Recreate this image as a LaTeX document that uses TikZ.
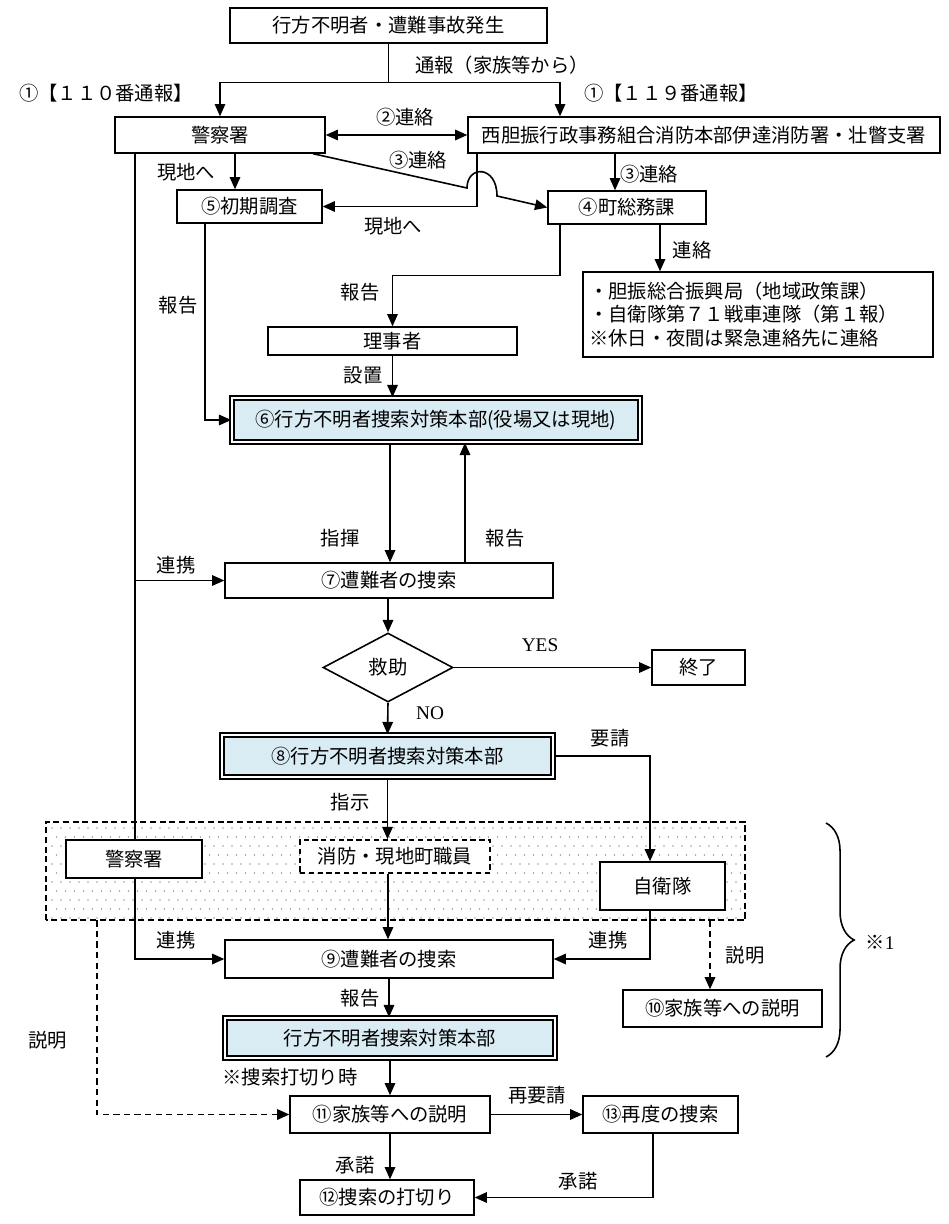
\documentclass[tikz,border=0pt]{standalone}
\usepackage{fontspec}
\setmainfont{Noto Sans CJK JP}
\newfontfamily\lat{Liberation Serif}
\usetikzlibrary{arrows.meta,shapes.geometric,decorations.pathreplacing,calc}
\definecolor{hqblue}{RGB}{218,236,243}
\definecolor{dotgray}{RGB}{160,160,160}
\begin{document}
\begin{tikzpicture}[x=0.02cm,y=-0.02cm,
  every node/.style={font=\fontsize{11}{13.6}\selectfont},
  box/.style={draw, line width=0.8pt, fill=white, inner sep=0pt},
  hqbox/.style={draw, line width=0.9pt, double=white, double distance=1.2pt, fill=hqblue, inner sep=0pt},
  dbox/.style={box, line width=1pt, dash pattern=on 3pt off 2pt},
  lbl/.style={inner sep=0pt},
  arr/.style={line width=0.9pt, -{Triangle[length=7pt,width=6pt]}},
  plain/.style={line width=0.9pt},
  darr/.style={line width=1.1pt, dash pattern=on 3.5pt off 2.5pt, -{Triangle[length=7pt,width=6pt]}}
]
\useasboundingbox (0,0) rectangle (948,1224);

% dotted region
\node[draw=none, minimum width=13.98cm, minimum height=1.96cm, inner sep=0pt] (reg) at (395.5,871) {};
\foreach \j in {0,...,10} {
  \pgfmathsetmacro{\off}{mod(\j,2)*4.5}
  \foreach \i in {0,...,76} {
    \fill[dotgray] (52+\off+\i*9, 828+\j*9) circle (0.45pt);
  }
}
\draw[line width=1.1pt, dash pattern=on 3.5pt off 2pt] (reg.south west) rectangle (reg.north east);

% nodes
\node[box, minimum width=6.34cm, minimum height=0.70cm] (top) at (388.5,25.5) {行方不明者・遭難事故発生};
\node[box, minimum width=4.2cm, minimum height=0.72cm] (police) at (220,135) {警察署};
\node[box, minimum width=9.44cm, minimum height=0.72cm] (fire) at (704,135) {西胆振行政事務組合消防本部伊達消防署・壮瞥支署};
\node[box, minimum width=2.9cm, minimum height=0.66cm] (init) at (249.5,206.5) {⑤初期調査};
\node[box, minimum width=3.16cm, minimum height=0.66cm] (somu) at (627,207.5) {④町総務課};
\node[box, minimum width=7.0cm, minimum height=1.7cm, text width=6.76cm, align=left] (info) at (758,314.5) {・胆振総合振興局（地域政策課）\\・自衛隊第７１戦車連隊（第１報）\\※休日・夜間は緊急連絡先に連絡};
\node[box, minimum width=4.98cm, minimum height=0.56cm] (riji) at (392.5,341) {理事者};
\node[hqbox, minimum width=8.16cm, minimum height=0.88cm] (hq6) at (436,420) {⑥行方不明者捜索対策本部(役場又は現地)};
\node[box, minimum width=6.56cm, minimum height=0.7cm] (s7) at (389,580.5) {⑦遭難者の捜索};
\node[draw, diamond, line width=0.9pt, fill=white, inner sep=0pt, minimum width=2.6cm, minimum height=1.38cm] (dia) at (388,667.5) {救助};
\node[box, minimum width=1.86cm, minimum height=0.7cm] (end) at (698.5,667.5) {終了};
\node[hqbox, minimum width=6.62cm, minimum height=0.84cm] (hq8) at (387.5,756) {⑧行方不明者捜索対策本部};
\node[box, minimum width=6.56cm, minimum height=0.76cm] (s9) at (389,959) {⑨遭難者の捜索};
\node[box, minimum width=3.98cm, minimum height=0.74cm] (f10) at (722.5,1008.5) {⑩家族等への説明};
\node[hqbox, minimum width=6.6cm, minimum height=0.8cm] (hq) at (390,1038) {行方不明者捜索対策本部};
\node[box, minimum width=4.0cm, minimum height=0.74cm] (f11) at (390,1114.5) {⑪家族等への説明};
\node[box, minimum width=3.1cm, minimum height=0.74cm] (a13) at (660.5,1114.5) {⑬再度の捜索};
\node[box, minimum width=3.48cm, minimum height=0.7cm] (s12) at (387,1197.5) {⑫捜索の打切り};

% police long line (drawn before the second police box)
\coordinate (pl) at ([xshift=-1.7cm]police.south);
\draw[arr] (pl) |- (s9.west);
\draw[arr] (pl |- s7.west) -- (s7.west);

\node[box, minimum width=2.72cm, minimum height=0.76cm] (police2) at (134,859) {警察署};
\node[dbox, minimum width=3.8cm, minimum height=0.66cm] (fire2) at (395,856.5) {消防・現地町職員};
\node[box, minimum width=2.5cm, minimum height=0.96cm] (jsdf) at (662.5,886) {自衛隊};

% connectors top
\coordinate (j1) at ([yshift=-0.78cm]top.south);
\draw[plain] (top.south) -- (j1);
\draw[arr] (j1) -| (police.north);
\draw[arr] (j1) -| ([xshift=-2.88cm]fire.north);
\draw[line width=0.9pt, {Triangle[length=7pt,width=6pt]}-{Triangle[length=7pt,width=6pt]}] (police.east) -- (fire.west);
\draw[arr] ([xshift=0.3cm]police.south) -- ([xshift=0.3cm]police.south |- init.north);
% diagonal with hop
\coordinate (d0) at ([xshift=1.86cm]police.south);
\coordinate (h1) at (467,188);
\coordinate (h2) at (497,196);
\draw[arr] (d0) -- (h1) .. controls (467,165) and (497,165) .. (h2) -- (somu.west);
% fire to init
\coordinate (fv) at ([xshift=-4.54cm]fire.south);
\draw[arr] (fv) |- (init.east);
\coordinate (fs) at ([xshift=-1.78cm]fire.south);
\draw[arr] (fs) -- (fs |- somu.north);
% somu to riji
\coordinate (sm1) at ([xshift=-1.34cm]somu.south);
\draw[arr] (sm1) |- ($(riji.north)+(0,-51)$) -- (riji.north);
\coordinate (sm2) at ([xshift=0.66cm]somu.south);
\draw[arr] (sm2) -- (sm2 |- info.north);
\draw[arr] (riji.south) -- (riji.south |- hq6.north);
\coordinate (iv) at ([xshift=-0.89cm]init.south);
\draw[arr] (iv) |- (hq6.west);
% hq6 <-> s7
\coordinate (hd) at ([xshift=-0.92cm]hq6.south);
\draw[arr] (hd) -- (hd |- s7.north);
\coordinate (hu) at ([xshift=1.52cm]s7.north);
\draw[arr] (hu) -- (hu |- hq6.south);
\draw[arr] (s7.south) -- (s7.south -| dia.north) -- (dia.north);
\draw[arr] (dia.east) -- (end.west);
\draw[arr] (dia.south) -- (hq8.north);
% hq8
\coordinate (jt) at ([xshift=-0.25cm]jsdf.north);
\draw[arr] (hq8.east) -| (jt);
\draw[arr] (hq8.south) -- (hq8.south |- fire2.north);
\coordinate (fb) at ([xshift=-0.14cm]fire2.south);
\draw[arr] (fb) -- (fb |- s9.north);
\coordinate (jb) at ([xshift=-0.25cm]jsdf.south);
\draw[arr] (jb) |- (s9.east);
\coordinate (ft) at ([xshift=-0.25cm]f10.north);
\draw[darr] (ft |- reg.south) -- (ft);
\coordinate (dl) at ([xshift=1.02cm]reg.south west);
\draw[darr] (dl) |- (f11.west);
\draw[arr] (s9.south) -- (s9.south |- hq.north);
\draw[arr] (hq.south) -- (f11.north);
\draw[arr] (f11.east) -- (a13.west);
\draw[arr] (f11.south) -- (f11.south |- s12.north);
\coordinate (ab) at ([xshift=-0.15cm]a13.south);
\draw[arr] (ab) |- (s12.east);

% brace
\draw[line width=0.9pt, decorate, decoration={brace, amplitude=16pt}] (826,823) -- (826,1057);

% labels
\node[lbl] (l1) at (502,65) {通報（家族等から）};
\node[lbl] (l2) at (106,93) {①【１１０番通報】};
\node[lbl] (l3) at (671,93) {①【１１９番通報】};
\node[lbl] (l4) at (405,117) {②連絡};
\node[lbl] (l5) at (418,160) {③連絡};
\node[lbl] (l6) at (186,172) {現地へ};
\node[lbl] (l7) at (649,174) {③連絡};
\node[lbl] (l8) at (393,226) {現地へ};
\node[lbl] (l9) at (692,250) {連絡};
\node[lbl] (l10) at (360,292) {報告};
\node[lbl] (l11) at (178,305) {報告};
\node[lbl] (l12) at (363,375) {設置};
\node[lbl] (l13) at (340,538) {指揮};
\node[lbl] (l14) at (505,538) {報告};
\node[lbl] (l15) at (176,565) {連携};
\node[lbl, font=\lat\fontsize{11}{13}\selectfont] (l16) at (540,645) {YES};
\node[lbl, font=\lat\fontsize{11}{13}\selectfont] (l17) at (430,713) {NO};
\node[lbl] (l18) at (610,738) {要請};
\node[lbl] (l19) at (350,802) {指示};
\node[lbl] (l20) at (176,940) {連携};
\node[lbl] (l21) at (608,940) {連携};
\node[lbl] (l22) at (745,955) {説明};
\node[lbl] (l23) at (880,942) {※{\lat 1}};
\node[lbl] (l24) at (48,1040) {説明};
\node[lbl] (l25) at (360,998) {報告};
\node[lbl] (l26) at (290,1077) {※捜索打切り時};
\node[lbl] (l27) at (537,1095) {再要請};
\node[lbl] (l28) at (355,1165) {承諾};
\node[lbl] (l29) at (578,1181) {承諾};
\end{tikzpicture}
\end{document}
